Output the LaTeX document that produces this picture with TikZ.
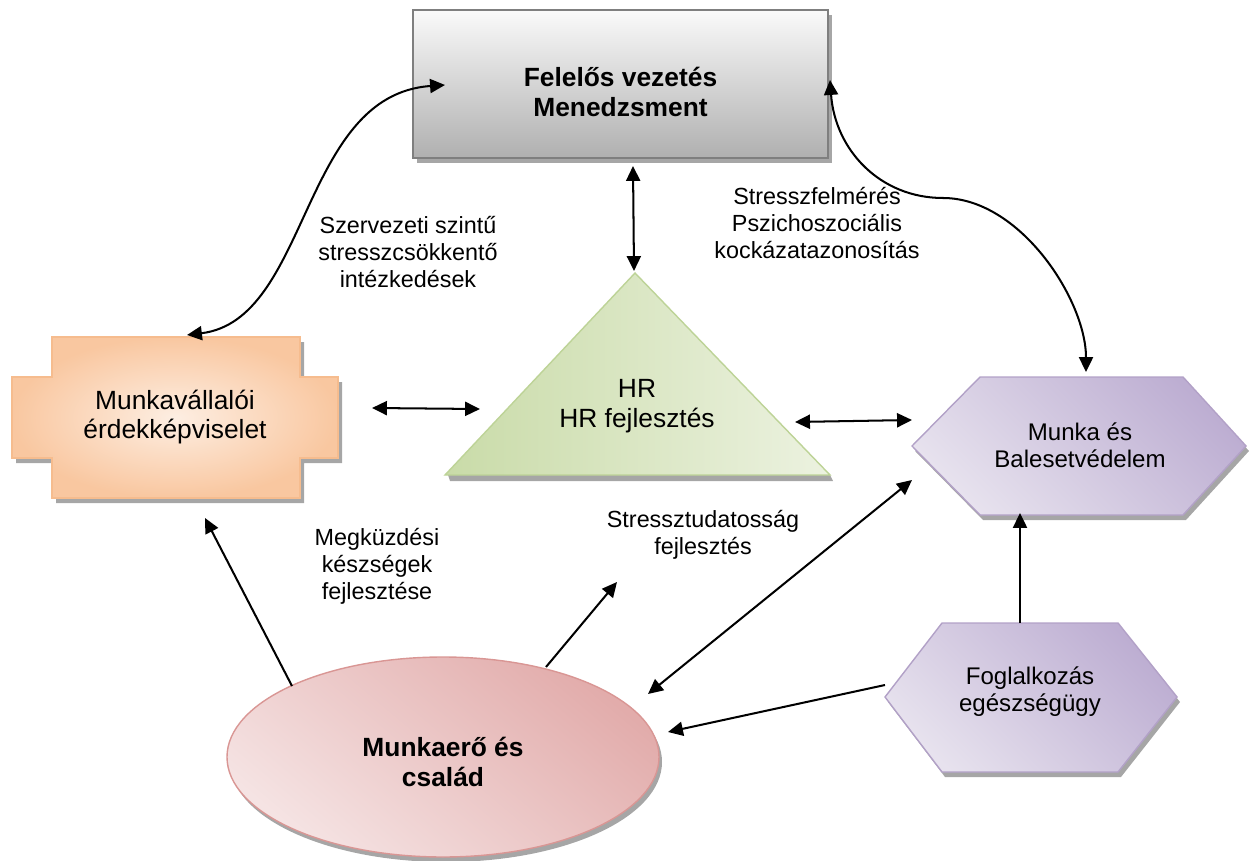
\documentclass[tikz,border=0pt]{standalone}
\usepackage{fontspec}
\setmainfont{Liberation Sans}
\usetikzlibrary{arrows.meta}
\definecolor{boxborder}{HTML}{7F7F7F}
\definecolor{orborder}{HTML}{F6BC8E}
\definecolor{orin}{HTML}{FDEEE2}
\definecolor{orout}{HTML}{F9C7A0}
\definecolor{grborder}{HTML}{BDD397}
\definecolor{grdark}{HTML}{C9DBA8}
\definecolor{grlight}{HTML}{ECF2E0}
\definecolor{puborder}{HTML}{B2A1C7}
\definecolor{pudark}{HTML}{BDAED2}
\definecolor{pulight}{HTML}{E7E2EE}
\definecolor{pkborder}{HTML}{D99694}
\definecolor{pkdark}{HTML}{E2ACAB}
\definecolor{pklight}{HTML}{F5E3E3}
\definecolor{shadowgray}{HTML}{A6A6A6}
\begin{document}
\begin{tikzpicture}[x=0.02cm,y=-0.02cm,
  conn/.style={line width=1.15pt, draw=black},
  tip/.style={-{Triangle[length=8.5pt,width=8pt]}},
  dtip/.style={{Triangle[length=8.5pt,width=8pt]}-{Triangle[length=8.5pt,width=8pt]}},
  lbl/.style={font=\fontsize{13.3}{15.3}\selectfont, align=center, text=black, inner sep=0pt},
  ntext/.style={font=\fontsize{15}{16.8}\selectfont, align=center, inner sep=0pt},
  btext/.style={font=\fontsize{15}{16.8}\selectfont\bfseries, align=center, inner sep=0pt},
  htext/.style={font=\fontsize{13.7}{15.3}\selectfont, align=center, inner sep=0pt},
  shad/.style={fill=shadowgray, draw=none},
]
\useasboundingbox (0,0) rectangle (1250,861);

% ---------- top box ----------
\fill[shad] (417,15) rectangle (832,163);
\shade[top color=gray!4, bottom color=gray!62, draw=boxborder, line width=1.3pt]
  (413,10) rectangle (828,158);
\node[btext] (mgmt) at (620.5,92) {Felelős vezetés\\Menedzsment};

% ---------- cross (Munkavállalói) ----------
\fill[shad, shift={(4,5)}] (52,337) -- (300,337) -- (300,377) -- (338,377) -- (338,458) -- (300,458)
  -- (300,498) -- (52,498) -- (52,458) -- (12,458) -- (12,377) -- (52,377) -- cycle;
\shade[inner color=orin, outer color=orout, draw=orborder, line width=0.8pt]
  (52,337) -- (300,337) -- (300,377) -- (338,377) -- (338,458) -- (300,458)
  -- (300,498) -- (52,498) -- (52,458) -- (12,458) -- (12,377) -- (52,377) -- cycle;
\node[ntext] (munkav) at (175,417) {Munkavállalói\\érdekképviselet};

% ---------- triangle (HR) ----------
\fill[shad] (448,475) -- (830,475) -- (833,481) -- (450,481) -- cycle;
\shade[left color=grdark, right color=grlight, draw=grborder, line width=0.8pt]
  (635,273) -- (830,475) -- (445,475) -- cycle;
\node[ntext] (hr) at (637,406) {HR\\HR fejlesztés};

% ---------- hexagon Munka ----------
\fill[shad, shift={(3,5)}] (912,446) -- (980,377) -- (1183,377) -- (1246,446) -- (1183,515) -- (980,515) -- cycle;
\shade[top color=pudark, bottom color=pulight, shading angle=-45, draw=puborder, line width=0.8pt]
  (912,446) -- (980,377) -- (1183,377) -- (1246,446) -- (1183,515) -- (980,515) -- cycle;
\node[htext] (munka) at (1080,445) {Munka és\\Balesetvédelem};

% ---------- hexagon Foglalkozás ----------
\fill[shad, shift={(3,5)}] (885,697) -- (942,623) -- (1118,623) -- (1177,697) -- (1118,772) -- (942,772) -- cycle;
\shade[top color=pudark, bottom color=pulight, shading angle=-45, draw=puborder, line width=0.8pt]
  (885,697) -- (942,623) -- (1118,623) -- (1177,697) -- (1118,772) -- (942,772) -- cycle;
\node[htext] (fog) at (1030,692) {Foglalkozás\\egészségügy};

% ---------- ellipse ----------
\fill[shad] (446,762) ellipse [x radius=216, y radius=100];
\shade[top color=pkdark, bottom color=pklight, shading angle=-40, draw=pkborder, line width=0.8pt]
  (443,757) ellipse [x radius=216, y radius=100];
\node[btext] (family) at (443,762) {Munkaerő és\\család};

% ---------- labels ----------
\node[lbl] (l1) at (408,252) {Szervezeti szintű\\stresszcsökkentő\\intézkedések};
\node[lbl] (l2) at (817,223) {Stresszfelmérés\\Pszichoszociális\\kockázatazonosítás};
\node[lbl] (l3) at (377,566) {Megküzdési\\készségek\\fejlesztése};
\node[lbl] (l4) at (703,535) {Stressztudatosság\\fejlesztés};

% ---------- connector end points ----------
\coordinate (crossTop) at (187,335);
\coordinate (mgmtL) at (445,85);
\coordinate (mgmtR) at (830,80);
\coordinate (munkaTop) at (1086,372);
\coordinate (mgmtB) at (633,166);
\coordinate (hrTop) at (634,271);
\coordinate (crossR) at (372,408);
\coordinate (hrL) at (480,409);
\coordinate (hrR) at (795,422);
\coordinate (munkaL) at (912,420);
\coordinate (famNW) at (292,686);
\coordinate (crossB) at (205,518);
\coordinate (famN) at (546,667);
\coordinate (stEnd) at (617,582);
\coordinate (famE) at (648,694);
\coordinate (munkaSW) at (912,480);
\coordinate (fogW) at (885,685);
\coordinate (famE2) at (668,732);
\coordinate (fogN) at (1020,623);
\coordinate (munkaB) at (1020,513);

% ---------- connectors ----------
\draw[conn,dtip] (crossTop) .. controls (310,320) and (300,95) .. (mgmtL);
\draw[conn,dtip] (mgmtR) .. controls (835,150) and (880,198) .. (943,198)
  .. controls (1020,198) and (1086,300) .. (munkaTop);
\draw[conn,dtip] (mgmtB) -- (hrTop);
\draw[conn,dtip] (crossR) -- (hrL);
\draw[conn,dtip] (hrR) -- (munkaL);
\draw[conn,tip] (famNW) -- (crossB);
\draw[conn,tip] (famN) -- (stEnd);
\draw[conn,dtip] (famE) -- (munkaSW);
\draw[conn,tip] (fogW) -- (famE2);
\draw[conn,tip] (fogN) -- (munkaB);
\end{tikzpicture}
\end{document}
